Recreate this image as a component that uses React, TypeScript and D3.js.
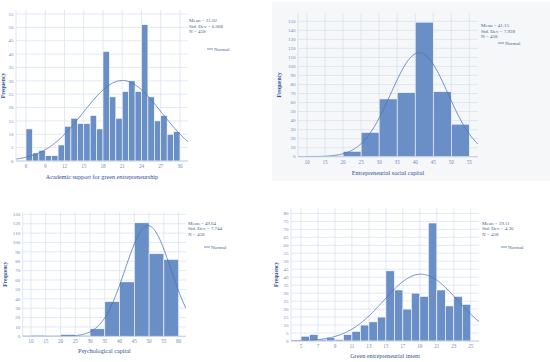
import React from 'react';
import * as d3 from 'd3';

// ---- data ----
const academicBins = [6, 7, 8, 9, 10, 11, 12, 13, 14, 15, 16, 17, 18, 19, 20, 21, 22, 23, 24, 25, 26, 27, 28, 29];
const academicCounts = [12, 3, 4, 2, 2, 6, 13, 16, 14, 14, 17, 12, 41, 24, 16, 26, 30, 26, 51, 24, 15, 17, 10, 11];
const academicXTicks = [6, 9, 12, 15, 18, 21, 24, 27, 30];
const academicStats = ['Mean = 21.02', 'Std. Dev = 6.068', 'N = 458'];

const socialBins = [10, 15, 20, 25, 30, 35, 40, 45, 50];
const socialCounts = [1, 1, 6, 27, 64, 71, 149, 72, 36];
const socialXTicks = [10, 15, 20, 25, 30, 35, 40, 45, 50, 55];
const socialStats = ['Mean = 41.15', 'Std. Dev = 7.928', 'N = 458'];

const psychBins = [10, 15, 20, 25, 30, 35, 40, 45, 50, 55];
const psychCounts = [1, 0, 2, 1, 8, 37, 58, 121, 88, 82];
const psychXTicks = [10, 15, 20, 25, 30, 35, 40, 45, 50, 55, 60];
const psychStats = ['Mean = 49.64', 'Std. Dev = 7.744', 'N = 458'];

const intentBins = [5, 6, 7, 8, 9, 10, 11, 12, 13, 14, 15, 16, 17, 18, 19, 20, 21, 22, 23, 24];
const intentCounts = [3, 4, 1, 2, 1, 4, 6, 10, 12, 15, 44, 32, 20, 30, 28, 74, 32, 22, 28, 23];
const intentXTicks = [5, 7, 9, 11, 13, 15, 17, 19, 21, 23, 25];
const intentStats = ['Mean = 19.11', 'Std. Dev = 4.36', 'N = 458'];

const BAR = '#6a8ec6';
const CURVE = '#4b76b6';
const GRID = '#d5dff0';
const TICK = '#6f8cc0';
const TITLE = '#2f4f96';
const FONT = '"Liberation Serif", "DejaVu Serif", serif';

interface HistProps {
  bins: number[];
  counts: number[];
  binWidth: number;
  xTicks: number[];
  yStep: number;
  yTickMax: number;
  mean: number;
  sd: number;
  n: number;
  stats: string[];
  title: string;
  // plot box
  left: number; right: number; top: number; bottom: number;
  xDomain: [number, number];
  yTop: number;
  statsX: number; statsY: number;
  legendX: number; legendY: number;
  labelX: number; titleY: number;
}

const Histogram: React.FC<HistProps> = (p) => {
  const x = d3.scaleLinear().domain(p.xDomain).range([p.left, p.right]);
  const y = d3.scaleLinear().domain([0, p.yTop]).range([p.bottom, p.top]);
  const yTicks = d3.range(0, p.yTickMax + 0.001, p.yStep);

  const pdf = (v: number) =>
    (p.n * p.binWidth / (p.sd * Math.sqrt(2 * Math.PI))) * Math.exp(-0.5 * ((v - p.mean) / p.sd) ** 2);
  const xs = d3.range(p.xDomain[0], p.xDomain[1] + 0.0001, (p.xDomain[1] - p.xDomain[0]) / 200);
  const line = d3.line<number>().x((v) => x(v)).y((v) => y(pdf(v))).curve(d3.curveBasis);
  const clipId = `clip-${p.title.replace(/\s+/g, '')}`;

  return (
    <g fontFamily={FONT}>
      <defs>
        <clipPath id={clipId}>
          <rect x={p.left} y={p.top} width={p.right - p.left} height={p.bottom - p.top} />
        </clipPath>
      </defs>
      {/* grid */}
      {yTicks.map((t) => (
        <line key={'gy' + t} x1={p.left} x2={p.right} y1={y(t)} y2={y(t)} stroke={GRID} strokeWidth={0.7} />
      ))}
      {p.xTicks.map((t) => (
        <line key={'gx' + t} x1={x(t)} x2={x(t)} y1={p.top} y2={p.bottom} stroke={GRID} strokeWidth={0.7} />
      ))}
      {/* bars */}
      {p.bins.map((b, i) => (
        <rect
          key={'b' + b}
          x={x(b)}
          y={y(p.counts[i])}
          width={x(b + p.binWidth) - x(b)}
          height={p.bottom - y(p.counts[i])}
          fill={BAR}
          stroke="#ffffff"
          strokeWidth={0.6}
        />
      ))}
      {/* normal curve */}
      <path d={line(xs) || ''} fill="none" stroke={CURVE} strokeWidth={0.8} clipPath={`url(#${clipId})`} />
      {/* axes */}
      <line x1={p.left} x2={p.left} y1={p.top} y2={p.bottom} stroke={GRID} strokeWidth={0.8} />
      <line x1={p.left} x2={p.right} y1={p.bottom} y2={p.bottom} stroke="#b9c8e4" strokeWidth={0.8} />
      {yTicks.map((t) => (
        <text key={'ty' + t} x={p.left - 2.5} y={y(t)} dy="0.35em" textAnchor="end" fontSize={5} fill={TICK}>
          {t}
        </text>
      ))}
      {p.xTicks.map((t) => (
        <text key={'tx' + t} x={x(t)} y={p.bottom + 7} textAnchor="middle" fontSize={5.2} fill={TICK}>
          {t}
        </text>
      ))}
      {/* titles */}
      <text
        transform={`translate(${p.labelX},${(p.top + p.bottom) / 2}) rotate(-90)`}
        textAnchor="middle"
        fontSize={5.6}
        fontWeight="bold"
        fill={TITLE}
      >
        Frequency
      </text>
      <text x={(p.left + p.right) / 2} y={p.titleY} textAnchor="middle" fontSize={6.2} fill={TITLE}>
        {p.title}
      </text>
      {/* stats + legend */}
      {p.stats.map((s, i) => (
        <text key={s} x={p.statsX} y={p.statsY + i * 5.6} fontSize={5} fill="#4a5f8c">
          {s}
        </text>
      ))}
      <line x1={p.legendX} x2={p.legendX + 6} y1={p.legendY} y2={p.legendY} stroke={CURVE} strokeWidth={0.8} />
      <text x={p.legendX + 7} y={p.legendY} dy="0.35em" fontSize={5} fill="#4a5f8c">
        Normal
      </text>
    </g>
  );
};

const App: React.FC = () => {
  return (
    <div style={{ position: 'absolute', left: 0, top: 0 }}>
      <svg width={550} height={362} viewBox="0 0 550 362" style={{ display: 'block', background: '#ffffff' }}>
        <rect x={272} y={2} width={278} height={179} fill="#f6f7f9" />
        <Histogram
          bins={academicBins} counts={academicCounts} binWidth={1} xTicks={academicXTicks}
          yStep={5} yTickMax={55} mean={21.02} sd={6.068} n={458} stats={academicStats}
          title="Academic support for green entrepreneurship"
          left={16} right={188} top={10} bottom={161} xDomain={[4.44, 31.25]} yTop={56.5}
          statsX={189} statsY={22} legendX={207} legendY={49} labelX={5} titleY={179}
        />
        <Histogram
          bins={socialBins} counts={socialCounts} binWidth={5} xTicks={socialXTicks}
          yStep={10} yTickMax={150} mean={41.15} sd={7.928} n={458} stats={socialStats}
          title="Entrepreneurial social capital"
          left={298} right={478} top={13} bottom={156.7} xDomain={[7.5, 57.4]} yTop={159.2}
          statsX={481} statsY={27} legendX={498} legendY={43} labelX={281} titleY={175}
        />
        <Histogram
          bins={psychBins} counts={psychCounts} binWidth={5} xTicks={psychXTicks}
          yStep={10} yTickMax={130} mean={49.64} sd={7.744} n={458} stats={psychStats}
          title="Psychological capital"
          left={22.7} right={186} top={212} bottom={336.3} xDomain={[7.2, 62.5]} yTop={132.5}
          statsX={188} statsY={224.5} legendX={204} legendY={247} labelX={7} titleY={353}
        />
        <Histogram
          bins={intentBins} counts={intentCounts} binWidth={1} xTicks={intentXTicks}
          yStep={5} yTickMax={80} mean={19.11} sd={4.36} n={458} stats={intentStats}
          title="Green entrepreneurial intent"
          left={291} right={479} top={207.7} bottom={341} xDomain={[3.82, 25.97]} yTop={83.6}
          statsX={482} statsY={224.5} legendX={501} legendY={247} labelX={278} titleY={358}
        />
      </svg>
    </div>
  );
};

export default App;
